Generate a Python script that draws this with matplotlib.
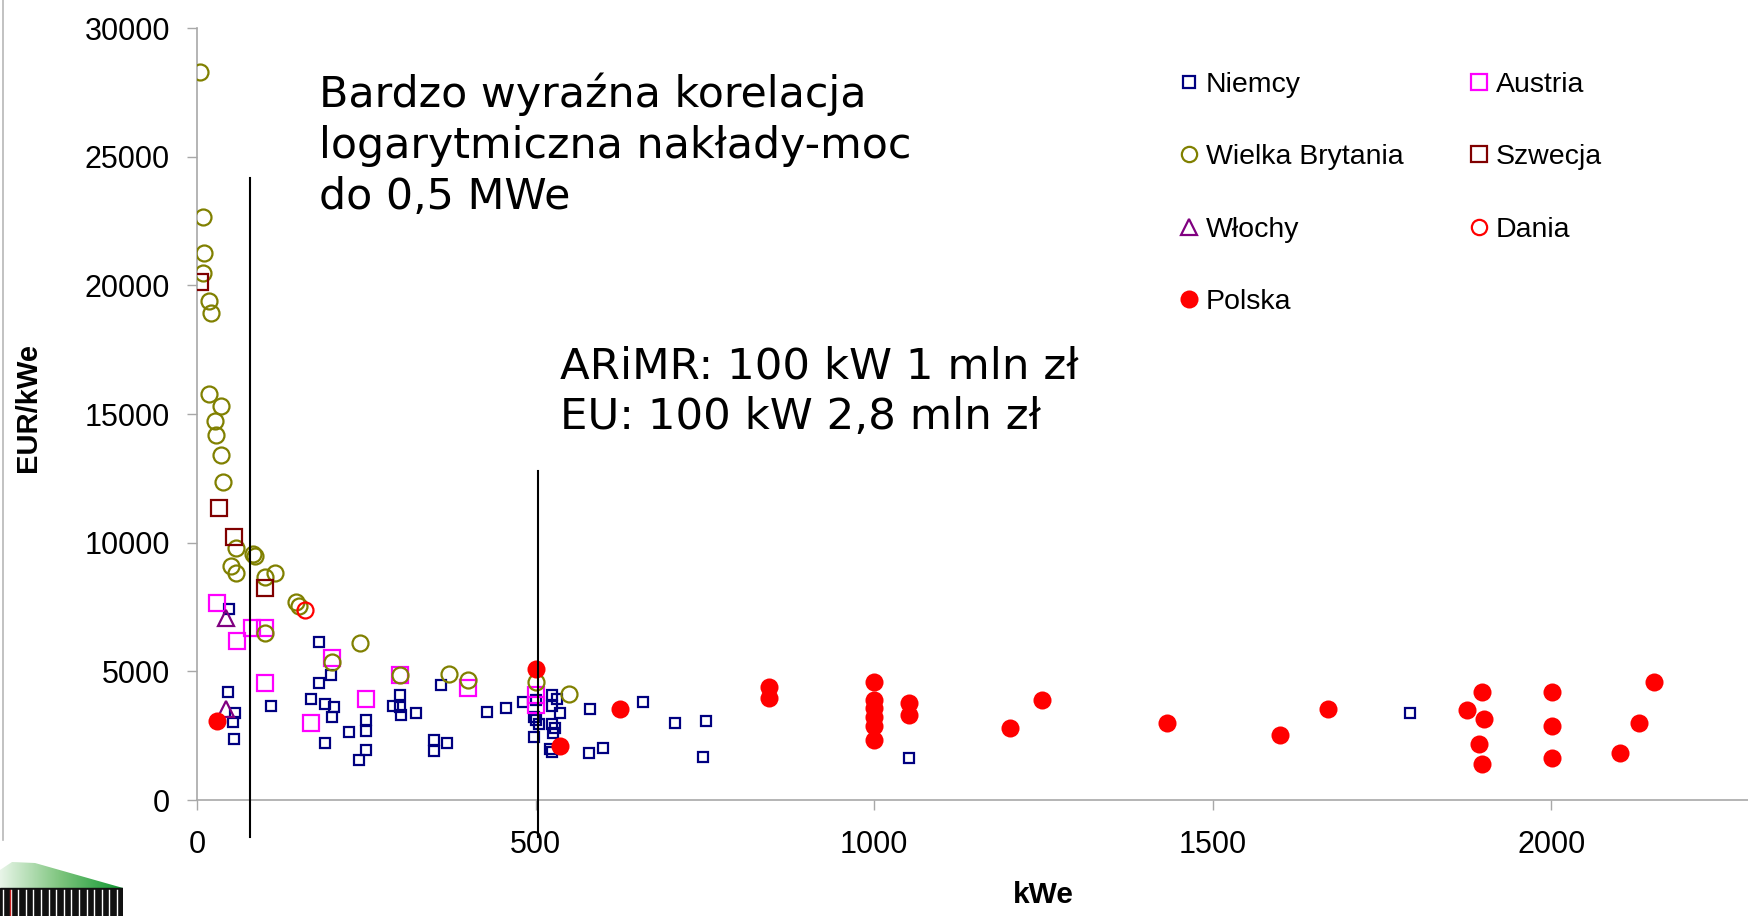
import matplotlib
matplotlib.use("Agg")
import matplotlib.pyplot as plt
from matplotlib.lines import Line2D
from matplotlib.patches import Polygon, Rectangle
import numpy as np

# ---------------- data (kWe, EUR/kWe) ----------------
niemcy_x = [47.6, 45.2, 56, 53.5, 55, 109, 180, 197.7, 180, 169, 189, 202.6, 199.7, 189, 224,
            249.4, 249.4, 249.4, 239, 299.6, 290, 299.6, 301, 324, 360, 350, 350, 369.5, 429,
            457, 481.7, 500, 497, 500, 505, 497, 525, 531, 525, 536, 525, 528, 526, 521, 525,
            580, 659, 579, 600, 706, 751.5, 746.6, 1051.7, 1792]
niemcy_y = [7420, 4208, 3368, 3043, 2370, 3652, 6152, 4856, 4534, 3924, 3730, 3625, 3237, 2203, 2630,
            3108, 2681, 1943, 1554, 4079, 3664, 3601, 3302, 3392, 4468, 2331, 1915, 2203, 3406,
            3562, 3790, 3900, 3237, 3108, 2953, 2460, 4079, 3924, 3652, 3368, 2953, 2786, 2592, 1981, 1853,
            3550, 3820, 1814, 2032, 3003, 3069, 1682, 1620, 3368]

austria_x = [29, 80.6, 100.3, 59.4, 199.7, 100.3, 299.6, 399.6, 249, 169, 500, 500]
austria_y = [7640, 6670, 6670, 6190, 5530, 4534, 4856, 4340, 3924, 2980, 4079, 3690]

wb_x = [5, 9, 11, 9, 18, 20, 18, 36, 26, 27.5, 35, 38, 57, 82, 85, 50, 57, 115, 101, 146, 151,
        100, 240, 200, 300, 372, 400, 500, 550]
wb_y = [28300, 22650, 21240, 20460, 19390, 18910, 15760, 15320, 14720, 14200, 13390, 12350, 9780,
        9550, 9480, 9100, 8810, 8810, 8680, 7700, 7550, 6500, 6100, 5350, 4860, 4880, 4660, 4570, 4120]

szwecja_x = [4, 33, 54.5, 100]
szwecja_y = [20140, 11330, 10230, 8250]

wlochy_x = [42.7, 42.7]
wlochy_y = [7058, 3524]

dania_x = [159]
dania_y = [7380]

polska_x = [30, 500, 536, 624.5, 844.5, 844.5, 1000, 1000, 1000, 1000, 1000, 1000, 1051.7, 1051.7,
            1200, 1248, 1433, 1600, 1670, 1876, 1898, 1901, 1893, 1898, 2001, 2001, 2001, 2101, 2129, 2152]
polska_y = [3080, 5090, 2085, 3524, 4402, 3950, 4596, 3885, 3562, 3237, 2875, 2331, 3757, 3302,
            2809, 3885, 2980, 2525, 3524, 3497, 4208, 3147, 2176, 1387, 4208, 2887, 1620, 1838, 3003, 4596]

x_ticks = [0, 500, 1000, 1500, 2000]
y_ticks = [0, 5000, 10000, 15000, 20000, 25000, 30000]
x_label = "kWe"
y_label = "EUR/kWe"
note1 = "Bardzo wyraźna korelacja\nlogarytmiczna nakłady-moc\ndo 0,5 MWe"
note2 = "ARiMR: 100 kW 1 mln zł\nEU: 100 kW 2,8 mln zł"
line1_x = 78
line2_x = 504

# ---------------- figure ----------------
W, H = 1749, 916
fig = plt.figure(figsize=(W / 100, H / 100), dpi=100)
fig.patch.set_facecolor("white")

def fx(x):
    return x / W

def fy(y):
    return 1 - y / H

ax_l, ax_r, ax_t, ax_b = 197, 1749, 28, 800
ax = fig.add_axes([fx(ax_l), fy(ax_b), (ax_r - ax_l) / W, (ax_b - ax_t) / H])
ax.set_xlim(0, 2292)
ax.set_ylim(0, 30000)

gray = "#a8a8a8"
for s in ["top", "right"]:
    ax.spines[s].set_visible(False)
for s in ["left", "bottom"]:
    ax.spines[s].set_color(gray)
    ax.spines[s].set_linewidth(1.2)

ax.set_xticks(x_ticks)
ax.set_yticks(y_ticks)
ax.tick_params(axis="both", direction="out", length=7.5, width=1.0, color=gray,
               labelsize=22, labelcolor="black")
ax.tick_params(axis="y", pad=12)
ax.tick_params(axis="x", pad=14)
for lab in ax.get_xticklabels() + ax.get_yticklabels():
    lab.set_fontfamily("Liberation Sans")

mew = 1.6
ax.plot(niemcy_x, niemcy_y, ls="none", marker="s", ms=7.5, mfc="none", mec="#000080", mew=mew, zorder=3)
ax.plot(austria_x, austria_y, ls="none", marker="s", ms=11, mfc="none", mec="#FF00FF", mew=mew, zorder=4)
ax.plot(wb_x, wb_y, ls="none", marker="o", ms=11.5, mfc="none", mec="#808000", mew=mew, zorder=5)
ax.plot(szwecja_x, szwecja_y, ls="none", marker="s", ms=11, mfc="none", mec="#800000", mew=mew, zorder=6)
ax.plot(wlochy_x, wlochy_y, ls="none", marker="^", ms=11, mfc="none", mec="#800080", mew=mew, zorder=6)
ax.plot(dania_x, dania_y, ls="none", marker="o", ms=11.5, mfc="none", mec="#FF0000", mew=mew, zorder=6)
ax.plot(polska_x, polska_y, ls="none", marker="o", ms=13, mfc="#FF0000", mec="#FF0000", mew=0, zorder=7)

# vertical reference lines (extend below axis)
ax.plot([line1_x, line1_x], [-1420, 24170], color="black", lw=1.5, clip_on=False, zorder=8)
ax.plot([line2_x, line2_x], [-1420, 12790], color="black", lw=1.5, clip_on=False, zorder=8)

# axis labels
fig.text(fx(28), fy(408), y_label, rotation=90, ha="center", va="center",
         fontsize=21, fontweight="bold", family="Liberation Sans")
fig.text(fx(1043), fy(895), x_label, ha="center", va="center",
         fontsize=21.5, fontweight="bold", family="Liberation Sans")

# annotations
fig.text(fx(319), fy(145), note1, ha="left", va="center", fontsize=30.8,
         family="DejaVu Sans", linespacing=1.27)
fig.text(fx(560), fy(392), note2, ha="left", va="center", fontsize=31.3,
         family="DejaVu Sans", linespacing=1.25)

# legend (drawn manually)
leg_items = [
    (1189, 82, "s", 8, "none", "#000080", "Niemcy"),
    (1189, 154, "o", 11, "none", "#808000", "Wielka Brytania"),
    (1189, 227, "^", 11, "none", "#800080", "Włochy"),
    (1189, 299, "o", 13, "#FF0000", "#FF0000", "Polska"),
    (1479, 82, "s", 11, "none", "#FF00FF", "Austria"),
    (1479, 154, "s", 11, "none", "#800000", "Szwecja"),
    (1479, 227, "o", 11, "none", "#FF0000", "Dania"),
]
for (px, py, m, ms, fc, ec, lab) in leg_items:
    fig.add_artist(Line2D([fx(px)], [fy(py)], marker=m, ms=ms, mfc=fc, mec=ec,
                          mew=(0 if fc != "none" else mew), ls="none", transform=fig.transFigure))
    fig.text(fx(px + 17), fy(py), lab, ha="left", va="center_baseline", fontsize=20.5,
             family="Liberation Sans")

# slide border line at left edge
fig.add_artist(Line2D([fx(3), fx(3)], [fy(0), fy(840)], color="#b8b8b8", lw=1.2,
                      transform=fig.transFigure))

# small logo at bottom-left
lax = fig.add_axes([0, 0, 123 / W, 56 / H])
lax.set_xlim(0, 123)
lax.set_ylim(56, 0)
lax.axis("off")
grad = np.linspace(0, 1, 200)[None, :]
img = lax.imshow(grad, extent=[0, 123, 28, 0], cmap=matplotlib.colors.LinearSegmentedColormap.from_list(
    "g", ["#e8f5e8", "#7cc47c", "#119933"]), aspect="auto")
poly = Polygon([[0, 10], [12, 2], [35, 3], [123, 28], [0, 28]], closed=True, transform=lax.transData)
img.set_clip_path(poly)
lax.add_patch(Rectangle((0, 28), 123, 28, color="#111111"))
for xs in np.arange(3, 123, 7.6):
    lax.plot([xs, xs], [30, 56], color="white", lw=1.0)
lax.plot([10, 10], [30, 56], color="#cc2222", lw=1.0)

fig.savefig("out.png", dpi=100)
